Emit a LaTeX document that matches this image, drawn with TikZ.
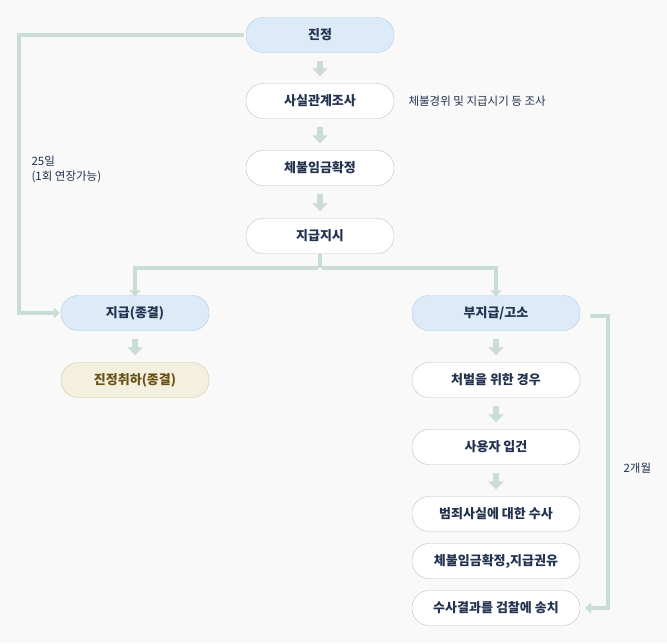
\documentclass[tikz,border=0pt]{standalone}
\usepackage{fontspec}
\setmainfont{Noto Sans CJK KR}
\usetikzlibrary{arrows.meta}
\definecolor{bg}{HTML}{F9F9F9}
\definecolor{txt}{HTML}{22324F}
\definecolor{lnk}{HTML}{C9DDD4}
\definecolor{bluefill}{HTML}{DDEBF9}
\definecolor{blueline}{HTML}{A9CCEA}
\definecolor{beigefill}{HTML}{F3F0E0}
\definecolor{beigeline}{HTML}{CFC8A6}
\definecolor{beigetxt}{HTML}{6B5014}
\tikzset{
  box/.style={draw=black!25, fill=white, rounded corners=17pt, minimum width=148pt,
    minimum height=35pt, font=\fontsize{13pt}{14pt}\selectfont\bfseries, text=txt},
  bluebox/.style={box, draw=blueline, fill=bluefill},
  beigebox/.style={box, draw=beigeline, fill=beigefill, text=beigetxt},
  widebox/.style={minimum width=168pt},
  fat/.style={lnk, line width=6pt, -{Triangle[width=15pt,length=8pt]}, shorten <=8pt, shorten >=7pt},
  link/.style={lnk, line width=4pt, -{Triangle[width=11pt,length=6pt]}},
  note/.style={font=\fontsize{11.5pt}{15pt}\selectfont, text=txt, align=left}
}
\begin{document}
\begin{tikzpicture}[x=1pt, y=-1pt]
\fill[bg] (0,0) rectangle (667,643);
\useasboundingbox (0,0) rectangle (667,643);
% main column
\node[bluebox] (petition) at (320,35) {진정};
\node[box] (survey) at (320,101) {사실관계조사};
\node[box] (confirm) at (320,168) {체불임금확정};
\node[box] (order) at (320,236) {지급지시};
\node[note, anchor=west] (surveynote) at (405,101) {체불경위 및 지급시기 등 조사};
% left branch
\node[bluebox] (paid) at (135,313) {지급(종결)};
\node[beigebox] (withdraw) at (135,380) {진정취하(종결)};
% right branch
\node[bluebox, widebox] (unpaid) at (496,313) {부지급/고소};
\node[box, widebox] (punish) at (496,380) {처벌을 위한 경우};
\node[box, widebox] (booking) at (496,447) {사용자 입건};
\node[box, widebox] (investigate) at (496,514) {범죄사실에 대한 수사};
\node[box, widebox] (advise) at (496,561) {체불임금확정,지급권유};
\node[box, widebox] (refer) at (496,608) {수사결과를 검찰에 송치};
% step arrows
\draw[fat] (petition) -- (survey);
\draw[fat] (survey) -- (confirm);
\draw[fat] (confirm) -- (order);
\draw[fat] (paid) -- (withdraw);
\draw[fat] (unpaid) -- (punish);
\draw[fat] (punish) -- (booking);
\draw[fat] (booking) -- (investigate);
% split
\coordinate (split) at (320,268);
\draw[lnk, line width=4pt] (order.south) -- (split);
\draw[link] ([xshift=-2pt]split) -| ([yshift=-1pt]paid.north);
\draw[link] ([xshift=2pt]split) -| ([yshift=-1pt]unpaid.north);
% time limits
\coordinate (leftturn) at (19,35);
\draw[link] ([xshift=-2pt]petition.west) -- (leftturn) |- ([xshift=-1pt]paid.west);
\node[note, anchor=north west] (days) at (28,152) {25일\\(1회 연장가능)};
\coordinate (rightturn) at (608,316);
\draw[link] (590,316) -- (rightturn) |- ([xshift=5pt]refer.east);
\node[note, anchor=west] (months) at (620,468) {2개월};
\end{tikzpicture}
\end{document}
